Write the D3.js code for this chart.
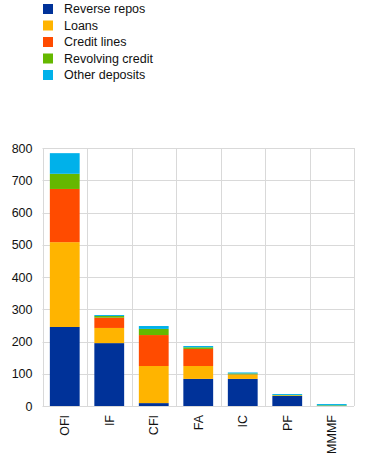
<!DOCTYPE html>
<html>
<head>
<meta charset="utf-8">
<script src="https://cdn.jsdelivr.net/npm/d3@7"></script>
<style>
  body { margin: 0; background: #fff; }
  svg { display: block; font-family: "Liberation Sans", Arial, sans-serif; }
</style>
</head>
<body>
<svg id="chart" width="371" height="458"></svg>
<script>
// Sectors on the x axis
const categories = ["OFI", "IF", "CFI", "FA", "IC", "PF", "MMMF"];
// Stacked components (bottom to top)
const seriesNames = ["Reverse repos", "Loans", "Credit lines", "Revolving credit", "Other deposits"];
const reverseRepos    = [245, 195,   9, 84, 84, 31, 0];
const loans           = [263,  47, 115, 40, 13,  2, 0];
const creditLines     = [165,  32,  96, 53,  1,  0, 0];
const revolvingCredit = [ 47,   5,  19,  5,  3,  1, 2];
const otherDeposits   = [ 64,   3,   9,  4,  3,  3, 4];
const yTicks = [0, 100, 200, 300, 400, 500, 600, 700, 800];
const colors = ["#003299", "#FFB400", "#FF4B00", "#65B800", "#00B1EA"];

const seriesValues = [reverseRepos, loans, creditLines, revolvingCredit, otherDeposits];
const rows = categories.map((c, i) => {
  const r = { cat: c };
  seriesNames.forEach((s, j) => r[s] = seriesValues[j][i]);
  return r;
});

const svg = d3.select("#chart");
const margin = { left: 42.5, right: 17, top: 148, bottom: 52 };
const W = 371, H = 458;
const textColor = "#111";

const x = d3.scaleBand().domain(categories)
  .range([margin.left, W - margin.right]).paddingInner(0.33).paddingOuter(0.165);
const y = d3.scaleLinear().domain([0, 800]).range([H - margin.bottom, margin.top]);

// Gridlines
const grid = svg.append("g");
grid.selectAll("line.h").data(yTicks).join("line")
  .attr("x1", margin.left).attr("x2", W - margin.right)
  .attr("y1", d => Math.round(y(d)) + 0.5).attr("y2", d => Math.round(y(d)) + 0.5)
  .attr("stroke", "#d9d9d9").attr("stroke-width", 1);
const bounds = d3.range(categories.length + 1).map(i => margin.left + i * (W - margin.right - margin.left) / categories.length);
grid.selectAll("line.v").data(bounds).join("line")
  .attr("x1", d => Math.round(d) + 0.5).attr("x2", d => Math.round(d) + 0.5)
  .attr("y1", y(800)).attr("y2", y(0))
  .attr("stroke", "#d9d9d9").attr("stroke-width", 1);

// Stacked bars
const stack = d3.stack().keys(seriesNames)(rows);
svg.append("g").selectAll("g").data(stack).join("g")
  .attr("fill", (d, i) => colors[i])
  .selectAll("rect").data(d => d).join("rect")
  .attr("x", d => x(d.data.cat))
  .attr("width", x.bandwidth())
  .attr("y", d => y(d[1]))
  .attr("height", d => Math.max(0, y(d[0]) - y(d[1])));

// Y axis
const yAxis = svg.append("g")
  .attr("transform", `translate(${margin.left},0)`)
  .call(d3.axisLeft(y).tickValues(yTicks).tickSize(0).tickPadding(10).tickFormat(d3.format("d")));
yAxis.select(".domain").remove();
yAxis.selectAll("text").attr("font-size", 12.5).attr("fill", textColor)
  .attr("font-family", "'Liberation Sans', Arial, sans-serif");

// X axis
const xAxis = svg.append("g")
  .attr("transform", `translate(0,${y(0)})`)
  .call(d3.axisBottom(x).tickSize(0).tickPadding(0));
xAxis.select(".domain").remove();
xAxis.selectAll("text")
  .attr("font-size", 12.5).attr("fill", textColor)
  .attr("font-family", "'Liberation Sans', Arial, sans-serif")
  .attr("transform", "rotate(-90)")
  .attr("text-anchor", "end")
  .attr("x", -9).attr("y", 0).attr("dy", "0.35em");

// Legend
const legend = svg.append("g").selectAll("g").data(seriesNames).join("g")
  .attr("transform", (d, i) => `translate(43,${9 + i * 16.5})`);
legend.append("rect").attr("x", 0).attr("y", -5).attr("width", 10).attr("height", 10)
  .attr("fill", (d, i) => colors[i]);
legend.append("text").attr("x", 21).attr("y", 0).attr("dy", "0.35em")
  .attr("font-size", 12.5).attr("fill", textColor).text(d => d);
</script>
</body>
</html>
